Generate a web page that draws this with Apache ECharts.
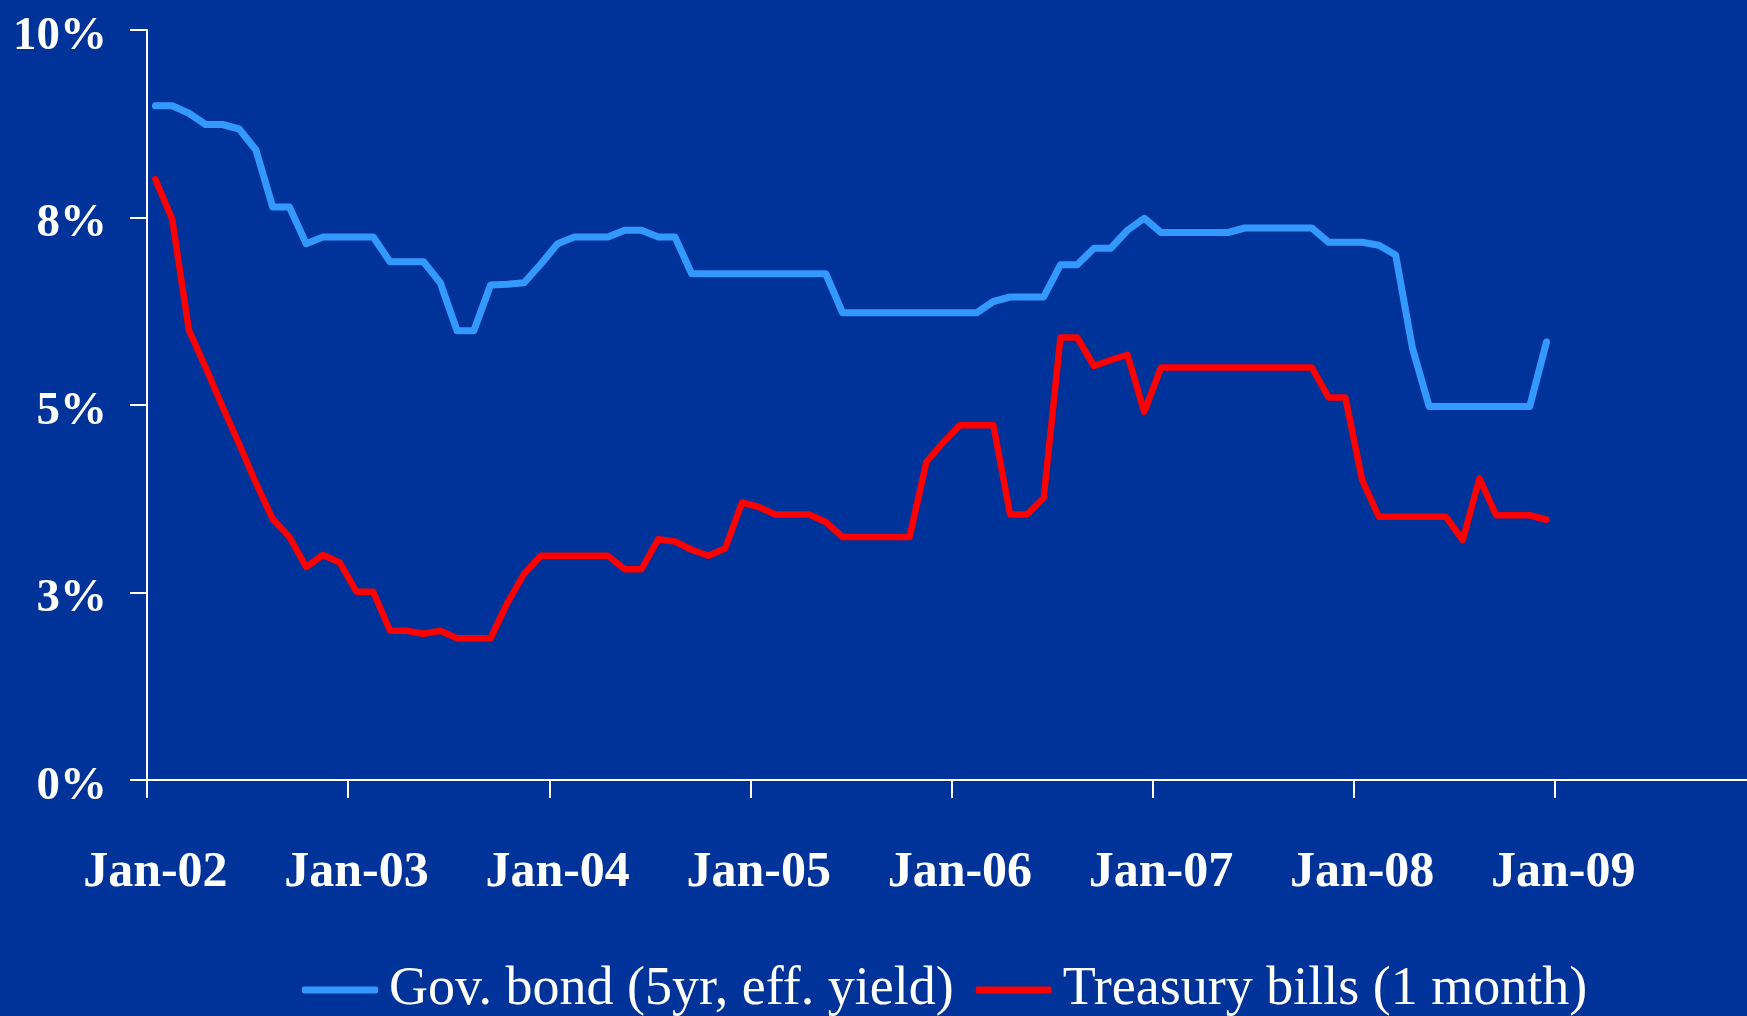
<!DOCTYPE html>
<html>
<head>
<meta charset="utf-8">
<script src="https://cdn.jsdelivr.net/npm/echarts@6/dist/echarts.min.js"></script>
<style>
  html, body { margin: 0; padding: 0; background: #003399; }
  #chart { width: 1747px; height: 1016px; }
</style>
</head>
<body>
<div id="chart"></div>
<script>
// Monthly axis: Jan-02 through Dec-09 (last year left empty)
const monthNames = ['Jan','Feb','Mar','Apr','May','Jun','Jul','Aug','Sep','Oct','Nov','Dec'];
const yearSuffixes = ['02','03','04','05','06','07','08','09'];

// Y-axis tick labels (ticks every 2.5 points, shown rounded)
const yTickLabels = ['0%', '3%', '5%', '8%', '10%'];

const seriesNames = ['Gov. bond (5yr, eff. yield)', 'Treasury bills (1 month)'];

// Government bond, 5-year effective yield, % (Jan-02 .. Dec-08)
const govBond = [
  8.99, 8.99, 8.89, 8.74, 8.74, 8.68, 8.40, 7.64, 7.64, 7.15, 7.24, 7.24,
  7.24, 7.24, 6.91, 6.91, 6.91, 6.63, 5.99, 5.99, 6.60, 6.61, 6.63, 6.88,
  7.15, 7.24, 7.24, 7.24, 7.33, 7.33, 7.24, 7.24, 6.75, 6.75, 6.75, 6.75,
  6.75, 6.75, 6.75, 6.75, 6.75, 6.23, 6.23, 6.23, 6.23, 6.23, 6.23, 6.23,
  6.23, 6.23, 6.38, 6.44, 6.44, 6.44, 6.87, 6.87, 7.09, 7.09, 7.33, 7.49,
  7.30, 7.30, 7.30, 7.30, 7.30, 7.36, 7.36, 7.36, 7.36, 7.36, 7.17, 7.17,
  7.17, 7.13, 7.00, 5.76, 4.98, 4.98, 4.98, 4.98, 4.98, 4.98, 4.98, 5.84
];

// Treasury bills, 1-month, % (Jan-02 .. Dec-08)
const tBills = [
  8.01, 7.48, 6.00, 5.50, 4.98, 4.48, 3.96, 3.48, 3.24, 2.84, 3.00, 2.90,
  2.51, 2.51, 1.99, 1.99, 1.95, 1.99, 1.89, 1.89, 1.89, 2.36, 2.75, 2.99,
  2.99, 2.99, 2.99, 2.99, 2.81, 2.81, 3.21, 3.18, 3.07, 2.99, 3.09, 3.70,
  3.64, 3.54, 3.54, 3.54, 3.44, 3.24, 3.24, 3.24, 3.24, 3.24, 4.24, 4.50,
  4.73, 4.73, 4.73, 3.54, 3.54, 3.76, 5.90, 5.90, 5.52, 5.60, 5.67, 4.91,
  5.50, 5.50, 5.50, 5.50, 5.50, 5.50, 5.50, 5.50, 5.50, 5.50, 5.10, 5.10,
  4.00, 3.51, 3.51, 3.51, 3.51, 3.51, 3.20, 4.02, 3.53, 3.53, 3.53, 3.47
];

const categories = [];
yearSuffixes.forEach(function (y) {
  monthNames.forEach(function (m) { categories.push(m + '-' + y); });
});

const WHITE = '#ffffff';
const SERIF = '"Liberation Serif", "Times New Roman", serif';

const chart = echarts.init(document.getElementById('chart'), null, { renderer: 'canvas' });

chart.setOption({
  animation: false,
  backgroundColor: '#003399',
  // the time axis runs on past the right edge of the page
  grid: { left: 147, width: 1609, top: 30, bottom: 236, containLabel: false, outerBoundsMode: 'none' },
  legend: {
    data: seriesNames,
    left: 297,
    top: 958,
    itemWidth: 76,
    itemHeight: 7,
    itemGap: 22,
    icon: 'roundRect',
    textStyle: {
      color: WHITE,
      fontFamily: SERIF,
      fontSize: 54,
      padding: [0, 0, 0, 6]
    }
  },
  xAxis: {
    type: 'category',
    data: categories,
    boundaryGap: true,
    axisLine: { lineStyle: { color: WHITE, width: 2 } },
    axisTick: { show: true, interval: 11, length: 18, lineStyle: { color: WHITE, width: 2 } },
    axisLabel: {
      interval: 11,
      color: WHITE,
      fontFamily: SERIF,
      fontWeight: 'bold',
      fontSize: 50,
      margin: 68
    },
    splitLine: { show: false }
  },
  yAxis: {
    type: 'value',
    min: 0,
    max: 10,
    interval: 2.5,
    axisLine: { show: true, lineStyle: { color: WHITE, width: 2 } },
    axisTick: { show: true, length: 17, lineStyle: { color: WHITE, width: 2 } },
    axisLabel: {
      color: WHITE,
      margin: 40,
      formatter: function (value, index) { return '{pct|' + yTickLabels[index] + '}'; },
      rich: {
        pct: {
          color: WHITE,
          fontFamily: SERIF,
          fontWeight: 'bold',
          fontSize: 47,
          padding: [13, 0, 0, 0]
        }
      }
    },
    splitLine: { show: false }
  },
  series: [
    {
      name: seriesNames[0],
      type: 'line',
      data: govBond,
      showSymbol: false,
      symbol: 'none',
      itemStyle: { color: '#3399ff' },
      lineStyle: { color: '#3399ff', width: 7, cap: 'round', join: 'round' }
    },
    {
      name: seriesNames[1],
      type: 'line',
      data: tBills,
      showSymbol: false,
      symbol: 'none',
      itemStyle: { color: '#ff0000' },
      lineStyle: { color: '#ff0000', width: 6.5, cap: 'round', join: 'round' }
    }
  ]
});
</script>
</body>
</html>
